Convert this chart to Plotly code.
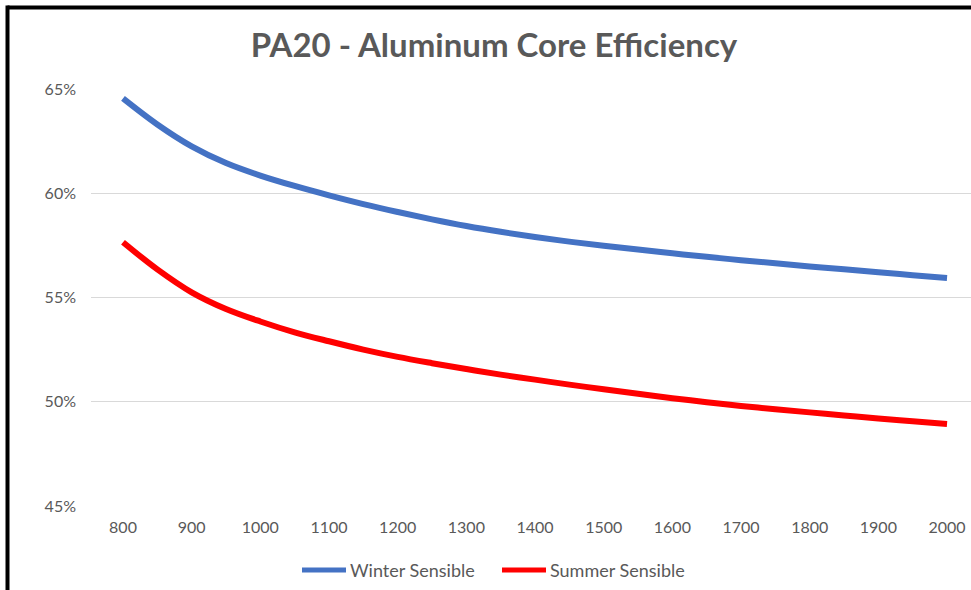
import plotly.graph_objects as go

airflow = [800, 850, 900, 950, 1000, 1050, 1100, 1150, 1200, 1250, 1300, 1350, 1400,
           1450, 1500, 1550, 1600, 1650, 1700, 1750, 1800, 1850, 1900, 1950, 2000]
winter_sensible = [64.55, 63.3, 62.25, 61.45, 60.85, 60.35, 59.9, 59.48, 59.1, 58.75, 58.43, 58.15, 57.9,
                   57.68, 57.48, 57.3, 57.12, 56.95, 56.79, 56.64, 56.49, 56.35, 56.21, 56.07, 55.94]
summer_sensible = [57.65, 56.35, 55.25, 54.45, 53.85, 53.33, 52.9, 52.5, 52.15, 51.85, 51.57, 51.3, 51.06,
                   50.82, 50.6, 50.38, 50.17, 49.98, 49.8, 49.64, 49.49, 49.34, 49.2, 49.06, 48.93]
x_ticks = [800, 900, 1000, 1100, 1200, 1300, 1400, 1500, 1600, 1700, 1800, 1900, 2000]
y_ticks = [45, 50, 55, 60, 65]
y_tick_text = ["45%", "50%", "55%", "60%", "65%"]
series_names = ["Winter Sensible", "Summer Sensible"]
series_colors = ["#4472C4", "#FF0000"]

FONT = "Lato"
GRAY = "#595959"

fig = go.Figure()
for name, vals, col in zip(series_names, [winter_sensible, summer_sensible], series_colors):
    fig.add_trace(go.Scatter(x=airflow, y=vals, name=name, mode="lines", showlegend=False,
                             line=dict(color=col, width=6, shape="spline", smoothing=1.0)))

W, H = 971, 590
L, R, T, B = 91, 0, 89, 84
pw = W - L - R
ph = H - T - B

def px(x):
    return (x - L) / pw

def py(y):
    return (H - B - y) / ph

fig.update_layout(
    width=W, height=H,
    margin=dict(l=L, r=R, t=T, b=B),
    paper_bgcolor="white", plot_bgcolor="white",
    font=dict(family=FONT, color=GRAY, size=16),
    title=dict(text="<b>PA20 - Aluminum Core Efficiency</b>", x=494 / W, xref="container", xanchor="center",
               y=1 - 45 / H, yref="container", yanchor="middle",
               font=dict(family=FONT, size=33, color=GRAY)),
    xaxis=dict(range=[753.4, 2034.9], tickvals=x_ticks, ticks="", showgrid=False,
               showline=False, zeroline=False, ticklabelstandoff=10,
               tickfont=dict(size=16, color=GRAY)),
    yaxis=dict(range=[45, 65], tickvals=y_ticks, ticktext=y_tick_text, ticks="",
               showgrid=True, gridcolor="#D9D9D9", gridwidth=1, zeroline=False,
               showline=False, ticklabelstandoff=14, tickfont=dict(size=16, color=GRAY)),
    showlegend=False,
)

# legend drawn as line samples + labels (Excel-style long line keys)
legend_line_x = [(302, 346), (502, 546)]
legend_text_x = [348, 548]
for (x0, x1), tx, name, col in zip(legend_line_x, legend_text_x, series_names, series_colors):
    fig.add_shape(type="line", xref="paper", yref="paper", x0=px(x0), x1=px(x1), y0=py(570), y1=py(570),
                  line=dict(color=col, width=5))
    fig.add_annotation(xref="paper", yref="paper", x=px(tx), y=py(570), xanchor="left", yanchor="middle",
                       text=name, showarrow=False, font=dict(size=18, color=GRAY, family=FONT))

# black frame (left and top edges of the cropped chart border)
fig.add_shape(type="line", xref="paper", yref="paper", x0=px(7.5), x1=px(W + 5), y0=py(7.5), y1=py(7.5),
              line=dict(color="black", width=4))
fig.add_shape(type="line", xref="paper", yref="paper", x0=px(7.5), x1=px(7.5), y0=py(5.5), y1=py(H + 5),
              line=dict(color="black", width=4))

fig.write_html("out.html", config={"displayModeBar": False},
               post_script="document.body.style.margin='0px';document.body.style.overflow='hidden';")
